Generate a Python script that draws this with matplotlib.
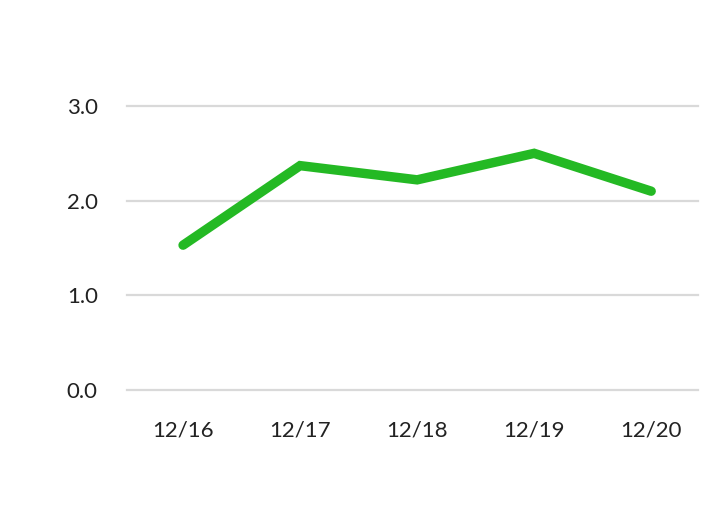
import matplotlib
matplotlib.use("Agg")
import matplotlib.pyplot as plt

categories = ["12/16", "12/17", "12/18", "12/19", "12/20"]
values = [1.53, 2.37, 2.22, 2.50, 2.10]
yticks = [0.0, 1.0, 2.0, 3.0]
ytick_labels = ["0.0", "1.0", "2.0", "3.0"]

plt.rcParams['font.family'] = ['Lato', 'DejaVu Sans']

W, H = 722, 525
fig = plt.figure(figsize=(W / 100, H / 100), dpi=100)
left, right, top, bottom = 127, 698, 106, 390
ax = fig.add_axes([left / W, 1 - bottom / H, (right - left) / W, (bottom - top) / H])

x = list(range(len(categories)))
ax.plot(x, values, color='#24b924', linewidth=6.8, solid_capstyle='round',
        solid_joinstyle='miter', clip_on=False, zorder=3)

ax.set_ylim(0, 3)
ax.set_xlim(-0.479, 4.40)
ax.set_yticks(yticks)
ax.set_yticklabels(ytick_labels)
ax.set_xticks(x)
ax.set_xticklabels(categories)

ax.grid(axis='y', color='#d9d9d9', linewidth=1.6)
ax.set_axisbelow(True)
for s in ax.spines.values():
    s.set_visible(False)
ax.tick_params(axis='both', length=0, labelsize=16, colors='#222222')
ax.tick_params(axis='y', pad=21)
ax.tick_params(axis='x', pad=22)
for gl in ax.get_ygridlines():
    gl.set_clip_on(False)

fig.savefig("out.png", dpi=100, facecolor='white')
